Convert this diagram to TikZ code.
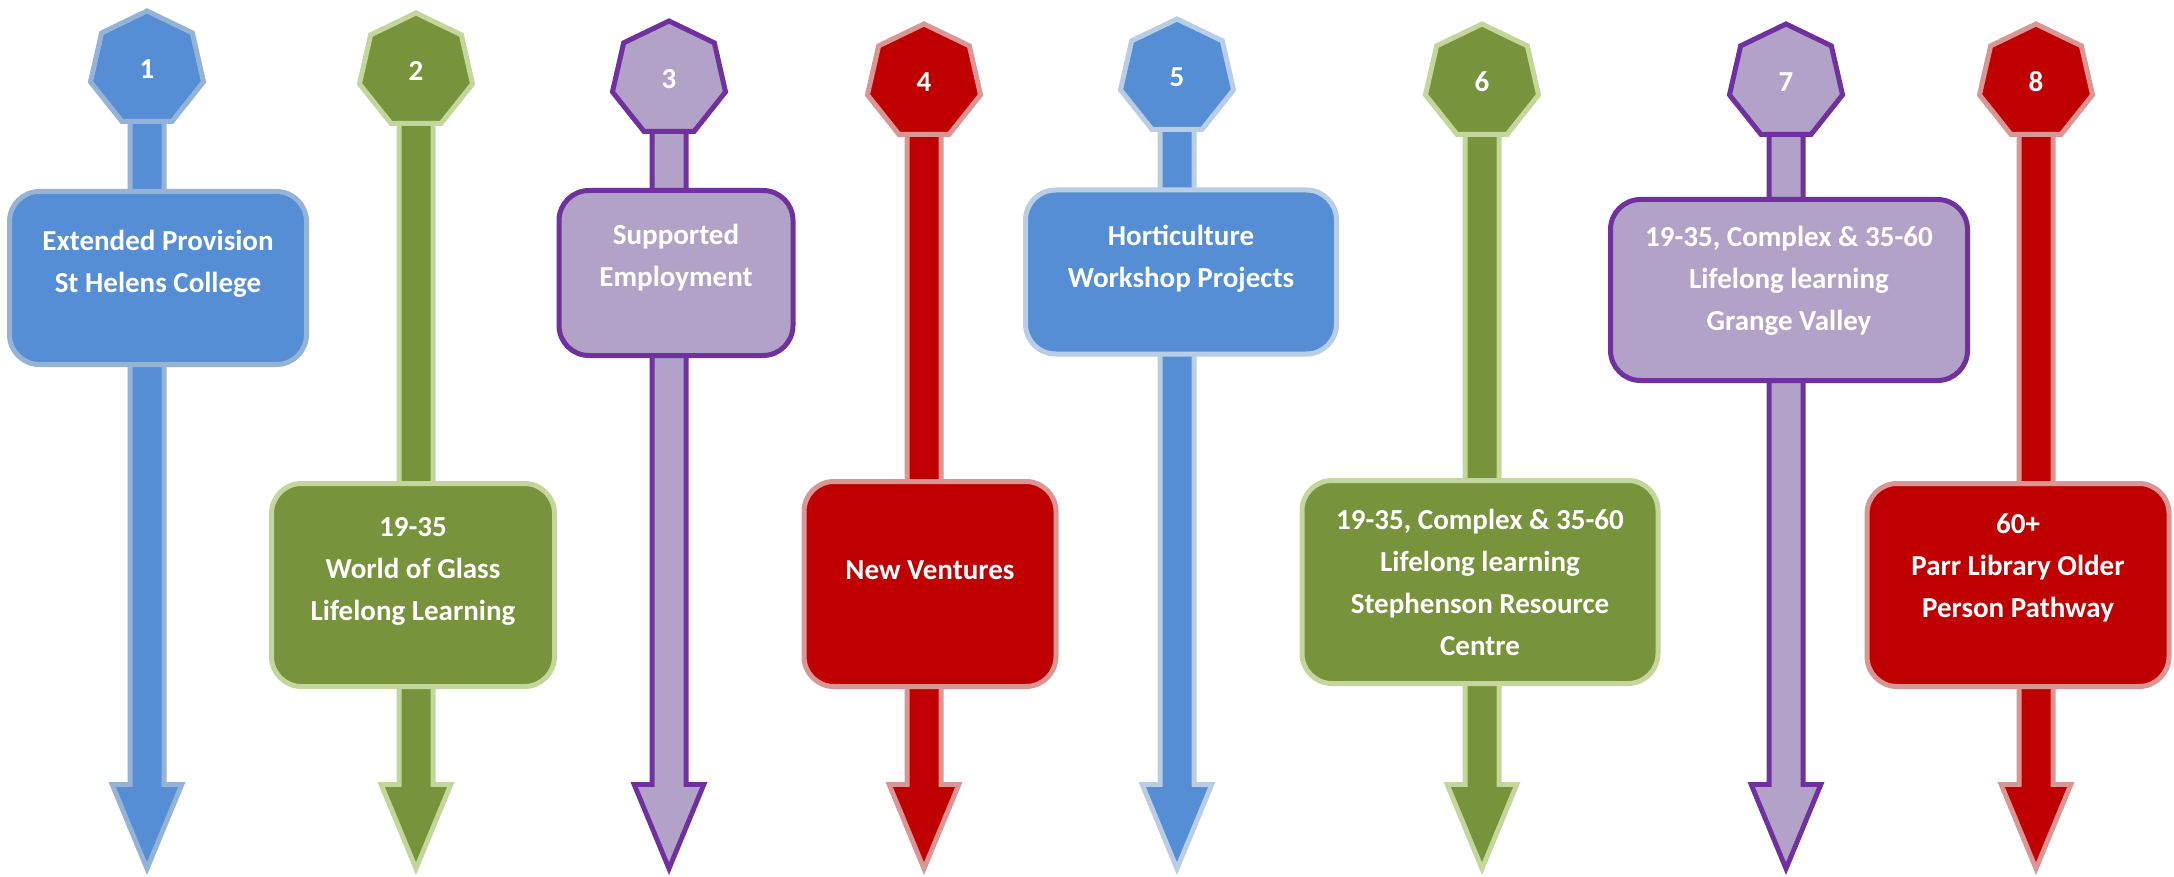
\documentclass[tikz,border=0pt]{standalone}
\usepackage{fontspec}
\setmainfont{Carlito}
\usetikzlibrary{arrows.meta,shapes.geometric,backgrounds}
\definecolor{blueFill}{HTML}{558ED5}
\definecolor{blueLine}{HTML}{95B3D7}
\definecolor{paleBlueLine}{HTML}{B9CDE5}
\definecolor{greenFill}{HTML}{77933C}
\definecolor{greenLine}{HTML}{C3D69B}
\definecolor{lilacFill}{HTML}{B3A2C7}
\definecolor{lilacLine}{HTML}{7030A0}
\definecolor{redFill}{HTML}{C00000}
\definecolor{redLine}{HTML}{D99694}
\tikzset{
  hept/.style={regular polygon, regular polygon sides=7, minimum size=116pt, inner sep=0pt,
    line width=5pt, text=white, font=\bfseries\fontsize{29}{42}\selectfont},
  card/.style={rounded corners=30pt, line width=5pt},
  cardtext/.style={align=center, text=white, font=\bfseries\fontsize{29}{42}\selectfont},
  stem/.style 2 args={draw=#1, line width=29pt, -{Triangle[length=75pt, width=62pt, line width=0pt]},
    shorten >=13pt, preaction={draw=#2, line width=39pt,
    -{Triangle[length=93pt, width=77pt, line width=0pt]}, shorten >=0pt}},
  bluepart/.style={fill=blueFill, draw=blueLine},
  palebluepart/.style={fill=blueFill, draw=paleBlueLine},
  greenpart/.style={fill=greenFill, draw=greenLine},
  lilacpart/.style={fill=lilacFill, draw=lilacLine},
  redpart/.style={fill=redFill, draw=redLine},
}
\begin{document}
\begin{tikzpicture}[x=1pt, y=-1pt]
  \useasboundingbox (0,0) rectangle (2174,877);

  \node[hept, bluepart] (h1) at (147,69) {1};
  \node[hept, greenpart] (h2) at (416,71) {2};
  \node[hept, lilacpart] (h3) at (669,79) {3};
  \node[hept, redpart] (h4) at (924,82) {4};
  \node[hept, palebluepart] (h5) at (1177,77) {5};
  \node[hept, greenpart] (h6) at (1482,82) {6};
  \node[hept, lilacpart] (h7) at (1786,82) {7};
  \node[hept, redpart] (h8) at (2036,82) {8};

  \coordinate (e1) at (147,875);
  \coordinate (e2) at (416,875);
  \coordinate (e3) at (669,875);
  \coordinate (e4) at (924,875);
  \coordinate (e5) at (1177,875);
  \coordinate (e6) at (1482,875);
  \coordinate (e7) at (1786,875);
  \coordinate (e8) at (2036,875);

  \node[card, bluepart, minimum width=297pt, minimum height=173pt] (b1) at (158,278) {};
  \node[card, greenpart, minimum width=283pt, minimum height=203pt] (b2) at (413,585) {};
  \node[card, lilacpart, minimum width=234pt, minimum height=165pt] (b3) at (676,273) {};
  \node[card, redpart, minimum width=252pt, minimum height=205pt] (b4) at (930,584) {};
  \node[card, palebluepart, minimum width=311pt, minimum height=164pt] (b5) at (1181,272) {};
  \node[card, greenpart, minimum width=356pt, minimum height=203pt] (b6) at (1480,582) {};
  \node[card, lilacpart, minimum width=357pt, minimum height=181pt] (b7) at (1789,290) {};
  \node[card, redpart, minimum width=302pt, minimum height=203pt] (b8) at (2018,585) {};

  \node[cardtext, yshift=14pt] (t1) at (b1) {Extended Provision\\St Helens College};
  \node[cardtext, yshift=14pt] (t2) at (b2) {19-35\\World of Glass\\Lifelong Learning};
  \node[cardtext, yshift=15pt] (t3) at (b3) {Supported\\Employment};
  \node[cardtext, yshift=14pt] (t4) at (b4) {New Ventures};
  \node[cardtext, yshift=13pt] (t5) at (b5) {Horticulture\\Workshop Projects};
  \node[cardtext] (t6) at (b6) {19-35, Complex \& 35-60\\Lifelong learning\\Stephenson Resource\\Centre};
  \node[cardtext, yshift=9pt] (t7) at (b7) {19-35, Complex \& 35-60\\Lifelong learning\\Grange Valley};
  \node[cardtext, yshift=17pt] (t8) at (b8) {60+\\Parr Library Older\\Person Pathway};

  \begin{scope}[on background layer]
    \draw[stem={blueFill}{blueLine}] (h1) -- (e1);
    \draw[stem={greenFill}{greenLine}] (h2) -- (e2);
    \draw[stem={lilacFill}{lilacLine}] (h3) -- (e3);
    \draw[stem={redFill}{redLine}] (h4) -- (e4);
    \draw[stem={blueFill}{paleBlueLine}] (h5) -- (e5);
    \draw[stem={greenFill}{greenLine}] (h6) -- (e6);
    \draw[stem={lilacFill}{lilacLine}] (h7) -- (e7);
    \draw[stem={redFill}{redLine}] (h8) -- (e8);
  \end{scope}
\end{tikzpicture}
\end{document}
